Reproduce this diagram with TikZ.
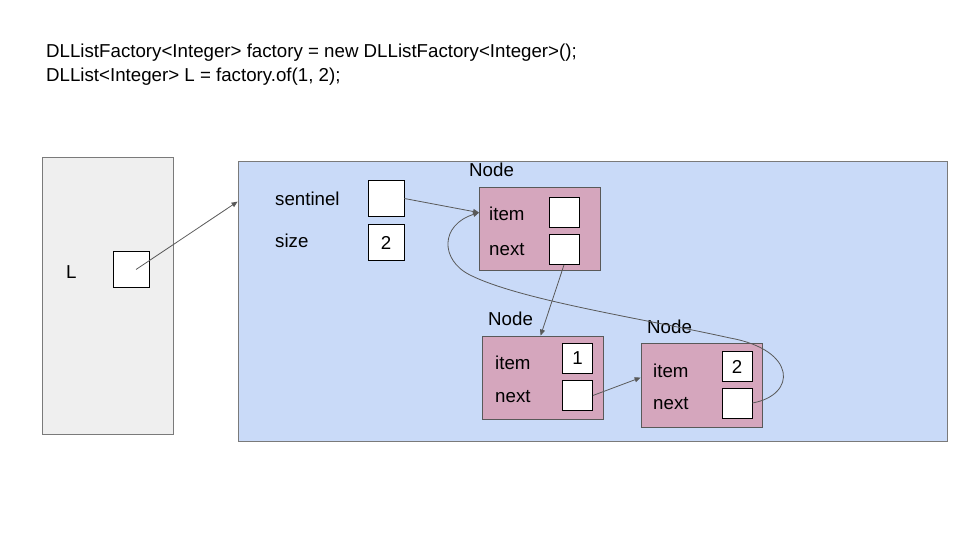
\documentclass[tikz,border=0pt]{standalone}
\usepackage{fontspec}
\setmainfont{Liberation Sans}
\definecolor{cLine}{HTML}{595959}
\definecolor{cFrame}{HTML}{EFEFEF}
\definecolor{cHeap}{HTML}{C9DAF8}
\definecolor{cObj}{HTML}{D5A6BD}
\usetikzlibrary{positioning,arrows.meta,calc}

\begin{document}
\begin{tikzpicture}[x=1pt,y=-1pt,
      area/.style={draw=cLine!80,line width=.8pt,inner sep=0pt},
      obj/.style={draw=cLine,fill=cObj,line width=.8pt,inner sep=0pt,
                  minimum width=121,minimum height=83},
      slot/.style={draw=black,fill=white,line width=.8pt,inner sep=0pt,
                   minimum size=30,font=\fontsize{18.7}{22}\selectfont},
      bigslot/.style={slot,minimum size=36},
      lbl/.style={anchor=base west,inner sep=0pt,font=\fontsize{18.7}{22}\selectfont},
      ptr/.style={-{Triangle[length=6pt,width=5pt]},line width=.8pt,color=cLine}]
    \useasboundingbox (0,0) rectangle (960,540);
    \node[lbl] (code1) at (46,58) {DLListFactory<Integer> factory = new DLListFactory<Integer>();};
    \node[lbl] (code2) at (46,82) {DLList<Integer> L = factory.of(1, 2);};
    % frame and heap
    \node[area,fill=cFrame,minimum width=131,minimum height=277] (frame) at (107.5,295.5) {};
    \node[area,fill=cHeap,minimum width=709,minimum height=280] (heap) at (592.5,301) {};
    \node[lbl] (lname) at (66,278) {L};
    \node[bigslot] (lslot) at (131,269.5) {};
    \node[lbl] (sname) at (275,205) {sentinel};
    \node[bigslot] (sslot) at (386,198.5) {};
    \node[lbl] (zname) at (275,247) {size};
    \node[bigslot] (zslot) at (386,242.5) {2};
    % the three nodes
    \node[obj] (n1) at (540,228.5) {};
    \node[obj] (n2) at (542.5,377.5) {};
    \node[obj,minimum height=84] (n3) at (701.5,385) {};
    \node[lbl] (t1) at (469,177) {Node};
    \node[lbl] (t2) at (488,325) {Node};
    \node[lbl] (t3) at (647,333) {Node};
    \node[lbl] (i1) at (489,220) {item};
    \node[lbl] (x1) at (489,255) {next};
    \node[lbl] (i2) at (495,369) {item};
    \node[lbl] (x2) at (495,402) {next};
    \node[lbl] (i3) at (653,377) {item};
    \node[lbl] (x3) at (653,409) {next};
    \node[slot] (is1) at (564,212) {};
    \node[slot] (ns1) at (564,249.5) {};
    \node[slot] (is2) at (577.5,358) {1};
    \node[slot] (ns2) at (577.5,395.5) {};
    \node[slot] (is3) at (737,366.5) {2};
    \node[slot] (ns3) at (737,403) {};
    % pointers
    \draw[ptr] ($(lslot.center)+(5,0)$) -- ($(heap.north west)+(0,41)$);
    \draw[ptr] (sslot.east) -- ($(n1.north west)+(0,26)$);
    \draw[ptr] (ns1.south) -- ($(n2.north west)+(59,0)$);
    \draw[ptr] (ns2.east) -- ($(n3.north west)+(0,35)$);
    \draw[ptr] (ns3.east) .. controls (797,395) and (797,350) .. (730,338)
      .. controls (640,318) and (520,300) .. (470,275)
      .. controls (440,260) and (440,225) .. ($(n1.north west)+(0,26)$);
  \end{tikzpicture}
\end{document}
